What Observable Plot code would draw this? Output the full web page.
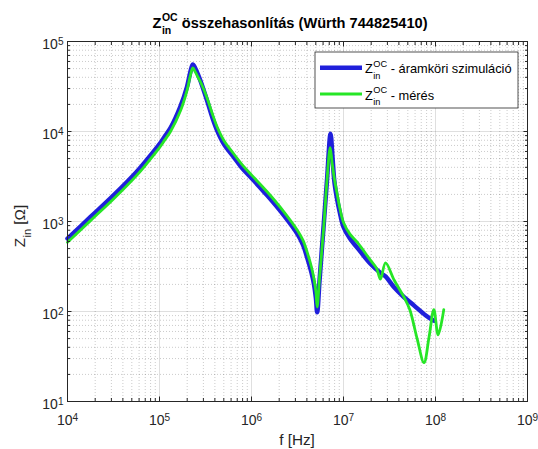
<!DOCTYPE html>
<html><head><meta charset="utf-8">
<script src="https://cdn.jsdelivr.net/npm/d3@7"></script>
<script src="https://cdn.jsdelivr.net/npm/@observablehq/plot@0.6"></script>
<style>body{margin:0;background:#fff;} svg{display:block}</style>
</head><body><div id="chart"></div>
<script>
// ---- data ----
const simFreq = [1e4, 1.778e4, 3.162e4, 5.623e4, 7.499e4, 1e5, 1.148e5, 1.318e5, 1.690e5, 1.995e5, 2.163e5, 2.301e5, 2.455e5, 2.630e5, 2.793e5, 3.296e5, 3.741e5, 4.236e5, 5.012e5, 6.427e5, 7.943e5, 1.016e6, 1.479e6, 2.239e6, 3.162e6, 3.631e6, 4.027e6, 4.467e6, 4.764e6, 5.012e6, 5.176e6, 5.495e6, 6.109e6, 6.607e6, 7.228e6, 7.586e6, 7.943e6, 8.414e6, 9.120e6, 1e7, 1.175e7, 1.409e7, 1.963e7, 2.512e7, 2.864e7, 3.548e7, 4.529e7, 5.821e7, 7.780e7, 9.550e7];
const simZ = [646, 1122, 1950, 3548, 5012, 7244, 8913, 10965, 19055, 31623, 45709, 55590, 50119, 42658, 36308, 21878, 14454, 10233, 7244, 5188, 3890, 2979, 1950, 1175, 724, 550, 398, 275, 204, 141, 98, 224, 955, 2818, 9441, 5248, 2818, 1905, 1259, 871, 646, 513, 339, 269, 245, 186, 145, 117, 91, 79];
const measFreq = [1e4, 1.778e4, 3.162e4, 5.623e4, 7.499e4, 1e5, 1.148e5, 1.318e5, 1.690e5, 1.995e5, 2.163e5, 2.301e5, 2.455e5, 2.630e5, 2.793e5, 3.296e5, 3.741e5, 4.236e5, 5.012e5, 6.427e5, 7.943e5, 1.016e6, 1.479e6, 2.239e6, 3.162e6, 3.631e6, 4.027e6, 4.467e6, 4.764e6, 5.012e6, 5.176e6, 5.495e6, 6.109e6, 6.607e6, 7.161e6, 7.499e6, 7.943e6, 8.414e6, 9.120e6, 1e7, 1.175e7, 1.409e7, 1.963e7, 2.291e7, 2.523e7, 2.864e7, 3.548e7, 4.529e7, 5.248e7, 6.310e7, 7.499e7, 8.511e7, 9.594e7, 1.069e8, 1.230e8];
const measZ = [589, 1023, 1778, 3236, 4571, 6607, 8128, 10000, 16982, 28840, 41687, 50933, 45709, 39811, 35481, 23442, 15849, 11220, 7943, 5623, 4266, 3236, 2138, 1288, 794, 617, 457, 316, 234, 166, 112, 240, 891, 2818, 6607, 4571, 3020, 2188, 1413, 977, 724, 589, 372, 302, 229, 347, 224, 145, 105, 50, 27, 52, 105, 55, 105];
const xMajorTicks = [1e4, 1e5, 1e6, 1e7, 1e8, 1e9];
const yMajorTicks = [1e1, 1e2, 1e3, 1e4, 1e5];
const titleMain = "Z", titleSub = "in", titleSup = "OC", titleRest = " összehasonlítás (Würth 744825410)";
const xLabelText = "f [Hz]";
const yLabelMain = "Z", yLabelSub = "in", yLabelRest = " [Ω]";
const legendLabels = [" - áramköri szimuláció", " - mérés"];
const seriesColors = ["#1f1fdb", "#26e626"];

// ---- build ----
const minorOf = majors => majors.slice(0, -1).flatMap(m => [2,3,4,5,6,7,8,9].map(k => k * m));
const xMinor = minorOf(xMajorTicks), yMinor = minorOf(yMajorTicks);
const sim = simFreq.map((f, i) => ({f, z: simZ[i]}));
const meas = measFreq.map((f, i) => ({f, z: measZ[i]}));
const expFmt = d => "10^" + Math.round(Math.log10(d));
const blank = () => "";
const axisCol = "#262626";

const chart = Plot.plot({
  width: 538, height: 449,
  marginLeft: 67, marginRight: 11, marginTop: 41, marginBottom: 48,
  style: {fontFamily: "'Liberation Sans', Arial, Helvetica, sans-serif", fontSize: "14px", background: "#fff", color: axisCol},
  x: {type: "log", domain: [1e4, 1e9], label: null},
  y: {type: "log", domain: [1e1, 1e5], label: null},
  marks: [
    Plot.ruleX(xMinor, {stroke: axisCol, strokeOpacity: 0.3, strokeDasharray: "1,2", strokeWidth: 0.8}),
    Plot.ruleY(yMinor, {stroke: axisCol, strokeOpacity: 0.3, strokeDasharray: "1,2", strokeWidth: 0.8}),
    Plot.ruleX(xMajorTicks, {stroke: axisCol, strokeOpacity: 0.15}),
    Plot.ruleY(yMajorTicks, {stroke: axisCol, strokeOpacity: 0.15}),
    Plot.line(sim, {x: "f", y: "z", stroke: seriesColors[0], strokeWidth: 4.5, strokeLinejoin: "round", curve: "catmull-rom"}),
    Plot.line(meas, {x: "f", y: "z", stroke: seriesColors[1], strokeWidth: 2.8, strokeLinejoin: "round", curve: "catmull-rom"}),
    Plot.axisX(xMajorTicks, {anchor: "bottom", tickSize: -4.5, tickFormat: blank, label: null}),
    Plot.axisX(xMajorTicks, {anchor: "top", tickSize: -4.5, tickFormat: blank, label: null}),
    Plot.axisX(xMinor, {anchor: "bottom", tickSize: -3, tickFormat: blank, label: null}),
    Plot.axisX(xMinor, {anchor: "top", tickSize: -3, tickFormat: blank, label: null}),
    Plot.axisY(yMajorTicks, {anchor: "left", tickSize: -4.5, tickFormat: blank, label: null}),
    Plot.axisY(yMajorTicks, {anchor: "right", tickSize: -4.5, tickFormat: blank, label: null}),
    Plot.axisY(yMinor, {anchor: "left", tickSize: -3, tickFormat: blank, label: null}),
    Plot.axisY(yMinor, {anchor: "right", tickSize: -3, tickFormat: blank, label: null}),
    Plot.axisX(xMajorTicks, {anchor: "bottom", tickSize: 0, tickPadding: 14, tickFormat: expFmt, label: null}),
    Plot.axisY(yMajorTicks, {anchor: "left", tickSize: 0, tickPadding: 4, dy: 3.5, tickFormat: expFmt, label: null}),
    Plot.frame({stroke: axisCol, strokeWidth: 1})
  ]
});
document.getElementById("chart").appendChild(chart);

// superscript exponents in tick labels
chart.querySelectorAll('[aria-label$="tick label"] text').forEach(t => {
  const m = t.textContent.match(/^10\^(-?\d+)$/);
  if (!m) return;
  t.textContent = "10";
  const ts = document.createElementNS("http://www.w3.org/2000/svg", "tspan");
  ts.setAttribute("dy", "-0.45em");
  ts.setAttribute("font-size", "0.72em");
  ts.textContent = m[1];
  t.appendChild(ts);
});

const root = d3.select(chart);
function rich(segs, size, weight, fill) {
  const g = root.append("g").attr("font-size", size).attr("font-weight", weight).attr("fill", fill)
    .attr("text-anchor", "start")
    .attr("font-family", "'Liberation Sans', Arial, Helvetica, sans-serif");
  let cx = 0;
  for (const s of segs) {
    if (s.t != null) {
      const t = g.append("text").attr("x", cx).attr("y", 0).attr("text-anchor", "start").style("white-space", "pre").text(s.t);
      cx += t.node().getComputedTextLength();
    } else {
      let w = 0;
      if (s.sub) {
        const t = g.append("text").attr("x", cx + 0.5).attr("y", size * 0.42).attr("text-anchor", "start").attr("font-size", size * 0.72).text(s.sub);
        w = Math.max(w, t.node().getComputedTextLength() + 0.5);
      }
      if (s.sup) {
        const t = g.append("text").attr("x", cx + 0.5).attr("y", -size * 0.5).attr("text-anchor", "start").attr("font-size", size * 0.72).text(s.sup);
        w = Math.max(w, t.node().getComputedTextLength() + 0.5);
      }
      cx += w;
    }
  }
  return {g, width: cx};
}

// title
const ttl = rich([{t: titleMain}, {sub: titleSub, sup: titleSup}, {t: titleRest}], 14.6, "bold", "#000");
ttl.g.attr("transform", `translate(${290 - ttl.width / 2},28)`);
// x label
const xl = rich([{t: xLabelText}], 15.3, "normal", axisCol);
xl.g.attr("transform", `translate(${297 - xl.width / 2},445)`);
// y label
const yl = rich([{t: yLabelMain}, {sub: yLabelSub}, {t: yLabelRest}], 15.3, "normal", axisCol);
yl.g.attr("transform", `translate(25,226) rotate(-90) translate(${-yl.width / 2},0)`);

// legend
const lg = root.append("g");
lg.append("rect").attr("x", 315).attr("y", 52).attr("width", 203).attr("height", 56)
  .attr("fill", "#fff").attr("stroke", axisCol).attr("stroke-width", 0.8);
const rowY = [67.7, 94];
const rowW = [4.5, 2.8];
legendLabels.forEach((lab, i) => {
  lg.append("line").attr("x1", 320).attr("x2", 362).attr("y1", rowY[i]).attr("y2", rowY[i])
    .attr("stroke", seriesColors[i]).attr("stroke-width", rowW[i]);
  const r = rich([{t: titleMain}, {sub: titleSub, sup: titleSup}, {t: lab}], 12.8, "normal", "#000");
  r.g.attr("transform", `translate(365,${rowY[i] + 5.5})`);
});
</script></body></html>
